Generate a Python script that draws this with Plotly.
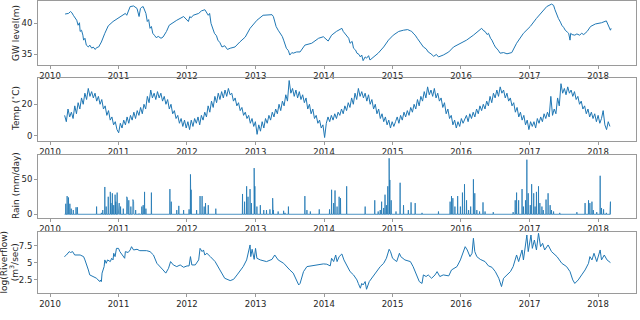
import pandas as pd
import plotly.graph_objects as go

BLUE = "#1f77b4"

# groundwater level (m), decimal year / value pairs
gw_t = [2010.22, 2010.25, 2010.27, 2010.30, 2010.32, 2010.34, 2010.37, 2010.39, 2010.41, 2010.43,
        2010.44, 2010.46, 2010.48, 2010.49, 2010.51, 2010.53, 2010.56, 2010.58, 2010.61, 2010.63,
        2010.66, 2010.68, 2010.71, 2010.75, 2010.80, 2010.85, 2010.92, 2011.02, 2011.10, 2011.12,
        2011.14, 2011.17, 2011.22, 2011.27, 2011.30, 2011.32, 2011.34, 2011.36, 2011.40, 2011.42,
        2011.44, 2011.46, 2011.48, 2011.50, 2011.53, 2011.55, 2011.58, 2011.62, 2011.65, 2011.70,
        2011.74, 2011.78, 2011.85, 2011.95, 2012.02, 2012.04, 2012.06, 2012.09, 2012.13, 2012.17,
        2012.21, 2012.26, 2012.31, 2012.33, 2012.35, 2012.38, 2012.40, 2012.43, 2012.45, 2012.48,
        2012.51, 2012.55, 2012.59, 2012.63, 2012.70, 2012.77, 2012.85, 2012.92, 2013.02, 2013.11,
        2013.21, 2013.24, 2013.26, 2013.28, 2013.30, 2013.33, 2013.36, 2013.39, 2013.41, 2013.43,
        2013.45, 2013.48, 2013.50, 2013.53, 2013.55, 2013.60, 2013.65, 2013.72, 2013.82, 2013.92,
        2013.99, 2014.06, 2014.11, 2014.18, 2014.26, 2014.28, 2014.33, 2014.36, 2014.38, 2014.41,
        2014.43, 2014.46, 2014.48, 2014.51, 2014.53, 2014.55, 2014.57, 2014.60, 2014.62, 2014.65,
        2014.67, 2014.72, 2014.79, 2014.87, 2014.94, 2015.01, 2015.09, 2015.16, 2015.22, 2015.26,
        2015.28, 2015.31, 2015.33, 2015.36, 2015.38, 2015.42, 2015.45, 2015.49, 2015.52, 2015.56,
        2015.60, 2015.64, 2015.67, 2015.74, 2015.82, 2015.89, 2015.99, 2016.08, 2016.18, 2016.25,
        2016.30, 2016.33, 2016.35, 2016.38, 2016.40, 2016.43, 2016.45, 2016.48, 2016.50, 2016.54,
        2016.57, 2016.62, 2016.67, 2016.74, 2016.81, 2016.91, 2017.01, 2017.10, 2017.18, 2017.25,
        2017.32, 2017.35, 2017.37, 2017.40, 2017.42, 2017.45, 2017.47, 2017.50, 2017.52, 2017.55,
        2017.57, 2017.59, 2017.60, 2017.62, 2017.66, 2017.69, 2017.73, 2017.76, 2017.79, 2017.84,
        2017.89, 2017.96, 2018.05, 2018.12, 2018.15, 2018.18, 2018.19]
gw_v = [41.5, 41.6, 41.6, 41.9, 41.7, 41.3, 40.9, 40.5, 39.7, 40.1,
        38.7, 38.9, 38.1, 37.3, 37.6, 36.5, 36.2, 36.5, 36.0, 36.2,
        35.8, 36.1, 36.2, 37.0, 38.4, 39.6, 40.3, 41.1, 41.6, 41.3,
        41.9, 42.7, 42.8, 42.4, 41.1, 42.4, 42.6, 42.7, 41.6, 40.3,
        40.6, 39.2, 39.5, 38.4, 38.0, 37.7, 37.9, 37.6, 37.8, 38.7,
        39.7, 40.0, 40.5, 41.1, 40.3, 41.1, 40.9, 41.3, 41.5, 41.6,
        42.0, 42.2, 41.3, 41.6, 40.0, 39.2, 38.4, 38.0, 37.3, 36.9,
        36.2, 36.4, 35.8, 36.0, 36.2, 37.0, 37.8, 39.2, 40.5, 41.3,
        41.3, 41.4, 41.1, 40.2, 39.5, 38.9, 38.4, 37.9, 37.3, 36.6,
        36.0, 35.6, 34.9, 35.3, 35.2, 35.4, 35.4, 36.5, 36.8, 37.6,
        37.85, 37.15, 38.1, 38.7, 39.2, 38.7, 38.1, 37.6, 36.8, 37.1,
        36.0, 35.7, 35.2, 35.0, 34.6, 34.9, 34.0, 34.6, 34.4, 34.8,
        34.1, 34.6, 35.2, 36.2, 37.3, 38.1, 38.7, 38.9, 39.0, 38.8,
        38.7, 38.3, 38.1, 37.6, 37.3, 36.8, 36.2, 35.9, 35.4, 35.1,
        34.7, 35.0, 34.6, 34.9, 35.4, 36.2, 36.8, 37.3, 38.1, 38.7,
        39.2, 38.8, 38.7, 38.2, 38.4, 37.6, 37.3, 36.6, 36.2, 35.7,
        35.2, 35.3, 35.1, 35.3, 36.8, 38.4, 39.5, 40.8, 41.9, 42.7,
        43.1, 42.9, 42.2, 41.3, 40.8, 40.2, 39.7, 39.3, 38.9, 38.6,
        38.4, 37.3, 38.4, 38.2, 38.1, 38.3, 38.1, 38.4, 38.2, 38.7,
        39.5, 39.9, 40.1, 40.4, 39.7, 38.9, 39.2]

# air temperature (deg C), one reading every nine days from 2010-03-20
temp_start = "2010-03-20"
temp_v = [13, 9, 17, 12, 15, 11, 19, 14, 21, 17, 24, 20, 27, 23, 30, 25, 28, 24, 27, 22,
          25, 20, 23, 17, 19, 13, 16, 10, 12, 7, 9, 4,
          2, 8, 5, 10, 7, 12, 8, 13, 10, 15, 11, 16, 13, 18, 14, 20, 17, 25, 21, 29,
          24, 27, 23, 28, 24, 27, 22, 25, 20, 23, 17, 20, 14, 16, 11, 13, 8, 11, 6, 10, 5,
          9, 4, 10, 6, 11, 8, 12, 7, 13, 10, 15, 12, 19, 15, 22, 18, 25, 21, 27, 23,
          28, 24, 29, 25, 30, 26, 27, 22, 24, 19, 21, 16, 18, 13, 15, 11, 13, 8, 11, 6, 9,
          1, 7, 3, 9, 5, 11, 8, 13, 10, 15, 12, 17, 14, 20, 16, 22, 19, 26, 22, 35,
          27, 30, 25, 29, 24, 28, 23, 26, 21, 24, 17, 20, 14, 17, 11, 13, 8, 10, 5, 7, -1,
          8, 12, 9, 13, 10, 14, 11, 15, 13, 17, 14, 19, 16, 21, 18, 24, 20, 27, 23, 30,
          25, 28, 24, 27, 22, 26, 20, 23, 17, 20, 14, 17, 11, 14, 9, 12, 7, 10, 5, 9, 6,
          9, 12, 8, 13, 10, 15, 12, 16, 13, 18, 15, 20, 17, 23, 19, 25, 22, 28, 24, 31,
          26, 29, 25, 30, 24, 27, 22, 24, 18, 21, 14, 17, 11, 13, 7, 10, 5, 9, 6, 11, 8,
          10, 13, 9, 14, 11, 15, 12, 17, 14, 19, 16, 20, 17, 22, 19, 25, 21, 27, 24, 29,
          25, 31, 27, 29, 24, 27, 22, 24, 19, 21, 15, 18, 12, 15, 10, 13, 7, 10, 4, 9, 6,
          9, 5, 11, 8, 12, 9, 14, 11, 15, 12, 25, 13, 17, 14, 24, 19, 33, 27, 30, 26,
          31, 27, 29, 25, 28, 23, 25, 20, 22, 17, 19, 14, 17, 12, 15, 11, 14, 9, 13, 8, 11,
          16, 7, 4, 9, 6]

# rain events (mm/day), every other day is dry
rain_t = [2010.23, 2010.25, 2010.27, 2010.29, 2010.31, 2010.34, 2010.38, 2010.40, 2010.68, 2010.75,
          2010.77, 2010.80, 2010.82, 2010.85, 2010.88, 2010.89, 2010.91, 2010.93, 2010.95, 2010.96,
          2010.98, 2011.00, 2011.01, 2011.03, 2011.07, 2011.12, 2011.13, 2011.15, 2011.18, 2011.21,
          2011.22, 2011.25, 2011.30, 2011.34, 2011.36, 2011.38, 2011.40, 2011.48, 2011.75, 2011.77,
          2011.85, 2011.88, 2011.95, 2012.03, 2012.05, 2012.06, 2012.14, 2012.19, 2012.22, 2012.25,
          2012.27, 2012.31, 2012.42, 2012.81, 2012.84, 2012.87, 2012.89, 2012.92, 2012.94, 2012.98,
          2012.99, 2013.02, 2013.07, 2013.12, 2013.16, 2013.21, 2013.25, 2013.26, 2013.33, 2013.41,
          2013.43, 2013.48, 2013.72, 2013.75, 2013.80, 2013.93,
          2014.08, 2014.11, 2014.14, 2014.16, 2014.19, 2014.22, 2014.24, 2014.33, 2014.60, 2014.74,
          2014.79, 2014.82, 2014.84, 2014.87, 2014.89, 2014.91, 2014.93, 2014.95, 2014.96, 2014.98,
          2015.05, 2015.11, 2015.16, 2015.23, 2015.27, 2015.33, 2015.43, 2015.67, 2015.84, 2015.86,
          2015.88, 2015.91, 2015.95, 2015.99, 2016.02, 2016.05, 2016.08, 2016.11, 2016.14, 2016.18,
          2016.20, 2016.23, 2016.27, 2016.32, 2016.35, 2016.47, 2016.76, 2016.79, 2016.81, 2016.84,
          2016.89, 2016.91, 2016.94, 2016.96, 2016.98, 2017.01, 2017.03, 2017.06, 2017.08, 2017.10,
          2017.13, 2017.15, 2017.18, 2017.20, 2017.24, 2017.27, 2017.30, 2017.32, 2017.35, 2017.44,
          2017.69, 2017.81, 2017.86, 2017.88, 2017.91, 2017.93, 2017.98, 2018.03, 2018.05, 2018.08,
          2018.12, 2018.18]
rain_v = [15, 26, 24, 15, 8, 6, 10, 10, 11, 2,
          6, 39, 11, 25, 32, 16, 30, 13, 28, 18,
          31, 11, 16, 11, 8, 25, 23, 20, 11, 21,
          18, 6, 1, 11, 13, 32, 8, 31, 36, 18,
          6, 12, 6, 7, 57, 35, 6, 26, 26, 11,
          16, 13, 8, 29, 18, 40, 25, 36, 16, 66,
          40, 11, 13, 6, 6, 7, 23, 6, 4, 5,
          2, 11, 26, 6, 4, 7,
          7, 35, 16, 34, 11, 25, 23, 40, 11, 20,
          4, 6, 18, 9, 28, 13, 40, 80, 49, 20,
          4, 45, 13, 6, 17, 16, 2, 4, 18, 26,
          23, 11, 26, 11, 31, 43, 20, 6, 11, 50,
          30, 6, 4, 17, 4, 3, 3, 20, 31, 20,
          36, 11, 20, 78, 30, 13, 43, 30, 11, 32,
          40, 16, 11, 6, 21, 30, 13, 6, 4, 2,
          3, 16, 20, 16, 18, 6, 3, 55, 9, 7,
          2, 18]

# log river flow (m3/sec)
flow_t = [2010.21, 2010.24, 2010.28, 2010.30, 2010.33, 2010.36, 2010.44, 2010.49, 2010.51, 2010.54,
          2010.56, 2010.58, 2010.63, 2010.68, 2010.70, 2010.73, 2010.74, 2010.75, 2010.76, 2010.78,
          2010.79, 2010.80, 2010.82, 2010.84, 2010.88, 2010.90, 2010.92, 2010.93, 2010.95, 2010.97,
          2011.00, 2011.02, 2011.05, 2011.09, 2011.10, 2011.14, 2011.17, 2011.19, 2011.22, 2011.27,
          2011.31, 2011.41, 2011.46, 2011.51, 2011.56, 2011.61, 2011.65, 2011.69, 2011.73, 2011.76,
          2011.80, 2011.85, 2011.90, 2011.95, 2012.00, 2012.03, 2012.05, 2012.07, 2012.12, 2012.17,
          2012.19, 2012.22, 2012.24, 2012.26, 2012.29, 2012.34, 2012.41, 2012.48, 2012.55, 2012.63,
          2012.68, 2012.73, 2012.77, 2012.82, 2012.87, 2012.90, 2012.92, 2012.93, 2012.95, 2012.98,
          2013.00, 2013.02, 2013.07, 2013.16, 2013.24, 2013.28, 2013.33, 2013.41, 2013.45, 2013.50,
          2013.55, 2013.60, 2013.63, 2013.65, 2013.70, 2013.75, 2013.84, 2013.92,
          2013.99, 2014.04, 2014.09, 2014.11, 2014.14, 2014.17, 2014.19, 2014.22, 2014.26, 2014.29,
          2014.33, 2014.38, 2014.43, 2014.48, 2014.50, 2014.53, 2014.55, 2014.57, 2014.60, 2014.62,
          2014.66, 2014.71, 2014.76, 2014.82, 2014.87, 2014.91, 2014.95, 2014.97, 2015.00, 2015.06,
          2015.10, 2015.12, 2015.18, 2015.26, 2015.30, 2015.35, 2015.39, 2015.43, 2015.45, 2015.49,
          2015.52, 2015.57, 2015.62, 2015.65, 2015.69, 2015.74, 2015.82, 2015.86, 2015.94, 2015.99,
          2016.03, 2016.06, 2016.09, 2016.13, 2016.16, 2016.18, 2016.20, 2016.23, 2016.28, 2016.35,
          2016.40, 2016.45, 2016.50, 2016.55, 2016.59, 2016.62, 2016.67, 2016.72, 2016.76, 2016.81,
          2016.84, 2016.89, 2016.91, 2016.96, 2016.98, 2017.02, 2017.04, 2017.07, 2017.10, 2017.13,
          2017.16, 2017.19, 2017.22, 2017.27, 2017.32, 2017.40, 2017.47, 2017.54, 2017.59, 2017.63,
          2017.66, 2017.71, 2017.76, 2017.81, 2017.86, 2017.88, 2017.91, 2017.94, 2017.98, 2018.03,
          2018.05, 2018.09, 2018.13, 2018.18]
flow_v = [5.9, 6.14, 6.63, 6.5, 6.63, 6.14, 6.14, 5.9, 5.42, 4.69,
          3.96, 3.24, 3.0, 2.75, 2.51, 2.27, 2.5, 2.27, 3.5, 3.96,
          4.45, 5.42, 4.93, 5.42, 5.18, 5.66, 5.42, 6.39, 5.9, 7.1,
          7.1, 6.63, 6.14, 5.66, 6.63, 6.5, 6.87, 7.35, 6.87, 6.97,
          6.77, 6.77, 6.63, 6.14, 4.93, 4.45, 3.96, 3.5, 4.2, 5.18,
          4.69, 4.45, 4.69, 4.35, 4.55, 4.55, 5.9, 4.69, 4.69, 5.42,
          7.1, 6.63, 6.87, 6.14, 6.39, 5.9, 5.18, 3.96, 2.75, 2.41,
          2.6, 3.24, 3.72, 4.45, 5.42, 6.63, 7.6, 5.9, 6.97, 5.5,
          7.1, 5.66, 5.42, 5.18, 5.5, 6.14, 5.42, 4.93, 4.45, 3.96,
          3.5, 2.51, 1.78, 2.0, 3.72, 4.45, 4.6, 4.8,
          4.84, 4.8, 4.55, 5.66, 5.18, 6.14, 5.18, 5.9, 6.29, 5.42,
          4.69, 3.72, 3.24, 2.51, 2.0, 1.3, 2.0, 1.78, 2.27, 1.15,
          2.27, 3.0, 3.72, 4.45, 4.93, 5.66, 6.97, 6.63, 5.66, 5.18,
          6.39, 5.9, 5.42, 5.18, 4.45, 3.24, 2.27, 2.0, 3.24, 3.0,
          3.24, 2.75, 3.24, 3.72, 3.0, 3.24, 3.1, 3.96, 4.45, 5.42,
          6.63, 7.35, 6.87, 5.9, 6.39, 8.57, 6.63, 5.9, 5.5, 5.18,
          4.55, 4.35, 3.72, 2.75, 1.54, 2.75, 3.24, 3.72, 4.45, 6.14,
          5.18, 6.87, 5.42, 9.05, 6.63, 9.05, 7.1, 8.32, 6.87, 9.3,
          7.35, 7.84, 6.87, 7.6, 6.63, 5.9, 4.93, 4.45, 3.72, 2.51,
          2.0, 2.51, 3.24, 3.96, 4.93, 5.9, 5.42, 6.39, 5.18, 6.87,
          5.42, 6.14, 5.42, 5.03]


def to_dates(years):
    base = pd.Timestamp("2010-01-01")
    return [base + pd.to_timedelta((y - 2010) * 365.25, unit="D") for y in years]


def spikes(years, values):
    # each rain day rises from and falls back to the zero line
    xs, ys = [pd.Timestamp("2010-03-20")], [0]
    for d, v in zip(to_dates(years), values):
        xs += [d - pd.Timedelta(days=1), d, d + pd.Timedelta(days=1)]
        ys += [0, v, 0]
    xs.append(pd.Timestamp("2018-03-06"))
    ys.append(0)
    return xs, ys


temp_dates = pd.date_range(temp_start, periods=len(temp_v), freq="9D")
rain_x, rain_y = spikes(rain_t, rain_v)

fig = go.Figure()
line = dict(color=BLUE, width=1)
fig.add_trace(go.Scatter(x=to_dates(gw_t), y=gw_v, mode="lines", line=line, xaxis="x", yaxis="y"))
fig.add_trace(go.Scatter(x=temp_dates, y=temp_v, mode="lines", line=line, xaxis="x2", yaxis="y2"))
fig.add_trace(go.Scatter(x=rain_x, y=rain_y, mode="lines", line=dict(color=BLUE, width=0.8),
                         xaxis="x3", yaxis="y3"))
fig.add_trace(go.Scatter(x=to_dates(flow_t), y=flow_v, mode="lines", line=line, xaxis="x4", yaxis="y4"))

W, H = 640, 320
x_dom = [38 / W, 636 / W]
panels = [  # (top px, bottom px, y range, tick step)
    (1.3, 65, [33.3, 43.55], 5),
    (78, 141, [-3.2, 36.6], 20),
    (155, 217.7, [-4.9, 84.7], 50),
    (231.7, 292.7, [0.65, 9.53], 2.5),
]
axis_font = dict(family="DejaVu Sans", size=8.5, color="#262626")
spine = "#9a9a9a"

layout = dict(width=W, height=H, margin=dict(l=0, r=0, t=0, b=0), showlegend=False,
              plot_bgcolor="white", paper_bgcolor="white", font=axis_font)
for i, (top, bot, yr, step) in enumerate(panels, start=1):
    sfx = "" if i == 1 else str(i)
    layout["xaxis" + sfx] = dict(
        domain=x_dom, anchor="y" + sfx, type="date", automargin=False,
        range=["2009-10-29", "2018-07-22"], tick0="2010-01-01", dtick="M12", tickformat="%Y",
        showgrid=False, zeroline=False, showline=True, mirror=True, linecolor=spine, linewidth=1,
        ticks="outside", ticklen=3, tickcolor=spine, tickfont=axis_font)
    layout["yaxis" + sfx] = dict(
        domain=[1 - bot / H, 1 - top / H], anchor="x" + sfx, range=yr, dtick=step, automargin=False,
        showgrid=False, zeroline=False, showline=True, mirror=True, linecolor=spine, linewidth=1,
        ticks="outside", ticklen=3, tickcolor=spine, tickfont=axis_font)
fig.update_layout(**layout)

titles = [
    ("GW level(m)", 16, 33),
    ("Temp (<sup>∘</sup>C)", 15, 109),
    ("Rain (mm/day)", 16, 186),
    ("log(Riverflow)<br>(m<sup>3</sup>/sec)", 9.5, 262),
]
for text, xp, yp in titles:
    fig.add_annotation(text=text, x=xp / W, y=1 - yp / H, xref="paper", yref="paper",
                       textangle=-90, showarrow=False, xanchor="center", yanchor="middle",
                       font=dict(family="DejaVu Sans", size=9, color="#262626"))

# drop the browser's default page margin so the figure sits at the window corner
fig.write_html("out.html", config={"displayModeBar": False},
               post_script="document.body.style.margin = '0';")
